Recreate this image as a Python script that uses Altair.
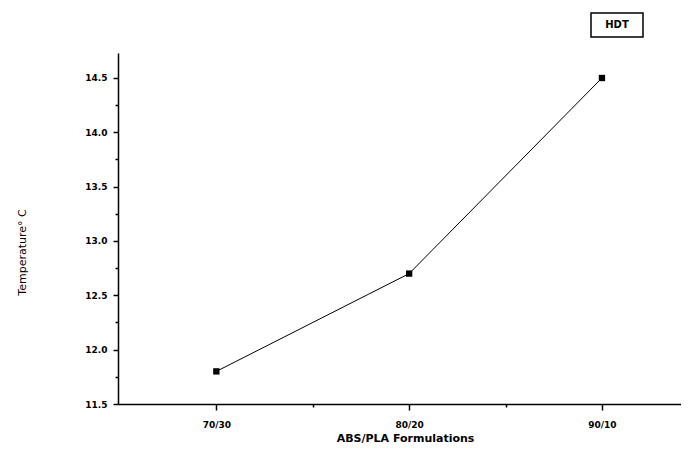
import altair as alt
import pandas as pd

formulations = ["70/30", "80/20", "90/10"]
hdt = [11.8, 12.7, 14.5]
y_major = [11.5, 12.0, 12.5, 13.0, 13.5, 14.0, 14.5]
y_minor = [11.75, 12.25, 12.75, 13.25, 13.75, 14.25]
x_major = [1, 2, 3]
x_minor = [1.5, 2.5]
legend_label = ["HDT"]

df = pd.DataFrame({"pos": x_major, "formulation": formulations, "hdt": hdt})

label_expr = " : ".join(
    f"datum.value == {p} ? '{f}'" for p, f in zip(x_major, formulations)
) + " : ''"

FONT = "DejaVu Sans"
xscale = alt.Scale(domain=[0.49, 3.41], nice=False, zero=False)
yscale = alt.Scale(domain=[11.5, 14.73], nice=False, zero=False)

x_main = alt.X(
    "pos:Q", scale=xscale,
    axis=alt.Axis(
        orient="bottom", values=x_major, labelExpr=label_expr, grid=False,
        title="ABS/PLA Formulations", titleFont=FONT, titleFontSize=11,
        titleFontWeight="bold", titleX=287, titleY=34, titleBaseline="middle",
        labelFont=FONT, labelFontSize=9, labelFontWeight="bold", labelPadding=10,
        tickSize=6, tickWidth=1.5, tickColor="black", domainColor="black",
        domainWidth=1.5, labelColor="black", titleColor="black", labelFlush=False,
    ),
)
y_main = alt.Y(
    "hdt:Q", scale=yscale,
    axis=alt.Axis(
        orient="left", values=y_major, format=".1f", grid=False,
        title="Temperature° C", titleFont=FONT, titleFontSize=11,
        titleFontWeight="normal", titleX=-96, titleY=199, titleAngle=-90,
        titleAlign="center", titleBaseline="middle",
        labelFont=FONT, labelFontSize=9, labelFontWeight="bold", labelPadding=6,
        tickSize=5, tickWidth=1.5, tickColor="black", domainColor="black",
        domainWidth=1.5, labelColor="black", titleColor="black", labelFlush=False,
    ),
)
x_min = alt.X(
    "pos:Q", scale=xscale,
    axis=alt.Axis(orient="bottom", values=x_minor, labels=False, title="",
                  domain=False, grid=False, tickSize=3, tickWidth=1.5,
                  tickColor="black"),
)
y_min = alt.Y(
    "hdt:Q", scale=yscale,
    axis=alt.Axis(orient="left", values=y_minor, labels=False, title="",
                  domain=False, grid=False, tickSize=3, tickWidth=1.5,
                  tickColor="black"),
)

base = alt.Chart(df)
line = base.mark_line(color="black", strokeWidth=1).encode(x=x_main, y=y_main)
pts = base.mark_square(size=40, color="black", opacity=1).encode(x=x_min, y=y_min)

ldf = pd.DataFrame({"label": legend_label})
box = alt.Chart(ldf).mark_rect(fill="white", stroke="black", strokeWidth=1.5).encode(
    x=alt.value(473), x2=alt.value(525), y=alt.value(-40), y2=alt.value(-16)
)
txt = alt.Chart(ldf).mark_text(
    font=FONT, fontSize=10, fontWeight="bold", color="black",
    align="center", baseline="middle",
).encode(text="label:N", x=alt.value(499), y=alt.value(-28))

chart = (
    alt.layer(line, pts, box, txt)
    .resolve_axis(x="independent", y="independent")
    .properties(
        width=563, height=351, autosize="none",
        padding={"left": 110, "top": 45, "right": 0, "bottom": 42},
        background="white",
    )
    .configure_view(stroke=None)
)

chart.save("out.html", embed_options={"renderer": "svg", "actions": False})
